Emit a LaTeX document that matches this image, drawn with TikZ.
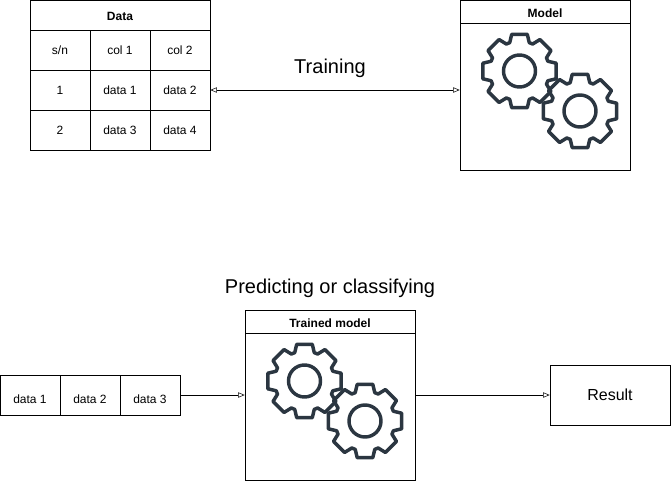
\documentclass[tikz,border=0pt]{standalone}
\usepackage{fontspec}
\setmainfont{Liberation Sans}
\usetikzlibrary{arrows.meta}
\definecolor{gearcolor}{HTML}{2B3641}
\newcommand{\lowtext}[2]{\raisebox{-#1}[\height][0pt]{#2}}
\begin{document}
\begin{tikzpicture}
  [x=.75pt,y=-.75pt,every node/.style={inner sep=0pt,font=\fontsize{9}{11}\selectfont}]
  \tikzstyle{cell} = [draw,minimum width=45pt,minimum height=30pt]
  \tikzstyle{head} = [draw,font=\fontsize{9}{11}\selectfont\bfseries]
  \tikzstyle{frame} = [draw,minimum width=127.5pt]
  \tikzstyle{caption} = [font=\fontsize{15}{18}\selectfont]
  \tikzstyle{link} = [-{Triangle[open,length=5pt,width=4pt]}]
  \tikzstyle{twoway} = [{Triangle[open,length=5pt,width=4pt]}-{Triangle[open,length=5pt,width=4pt]}]
  \tikzstyle{gear} = [draw=gearcolor,line width=2.6pt,line join=round]
  \useasboundingbox (0,0) rectangle (672,482);

  \node[head,minimum width=135pt,minimum height=22.5pt] (datahead) at (120,15) {\lowtext{.75pt}{Data}};
  \foreach \name /\xc /\yc /\txt in {a1/60/50/s\slash n,a2/120/50/col 1,a3/180/50/col 2,
      b1/60/90/1,b2/120/90/data 1,b3/180/90/data 2,
      c1/60/130/2,c2/120/130/data 3,c3/180/130/data 4,
      in1/30/395/\lowtext{3pt}{data 1},in2/90/395/\lowtext{3pt}{data 2},in3/150/395/\lowtext{3pt}{data 3}}
    \node[cell] (\name) at (\xc,\yc) {\txt};

  \node[head,minimum width=127.5pt,minimum height=17.25pt] (modelhead) at (545,11.5) {\lowtext{1.5pt}{Model}};
  \node[frame,minimum height=110.25pt] (model) at (545,96.5) {};
  \node[head,minimum width=127.5pt,minimum height=17.25pt] (trainedhead) at (330,321.5) {\lowtext{1.5pt}{Trained model}};
  \node[frame,minimum height=110.25pt] (trained) at (330,406.5) {};
  \node[draw,minimum width=90pt,minimum height=45pt,font=\fontsize{12}{14}\selectfont] (result) at (610,395) {Result};

  \node[caption] (training) at (330,68) {Training};
  \node[caption] (predicting) at (330,288) {Predicting or classifying};

  \draw[twoway] (b3.east) -- (b3.east -| model.west);
  \draw[link] (in3.east) -- (in3.east -| trained.west);
  \draw[link] (trained.east |- result.west) -- (result.west);

  % eight teeth on every gear
  \foreach \cx /\cy in {519.5/71,580/111,304.5/381,365/421}
    \draw[gear,shift={(\cx,\cy)}] (-19:30)
      \foreach \a in {0,45,...,315} {
        -- (\a-19:30) -- (\a-12:37.5) -- (\a+12:37.5) -- (\a+19:30)
      } -- cycle
      (0,0) circle (16);
\end{tikzpicture}
\end{document}
